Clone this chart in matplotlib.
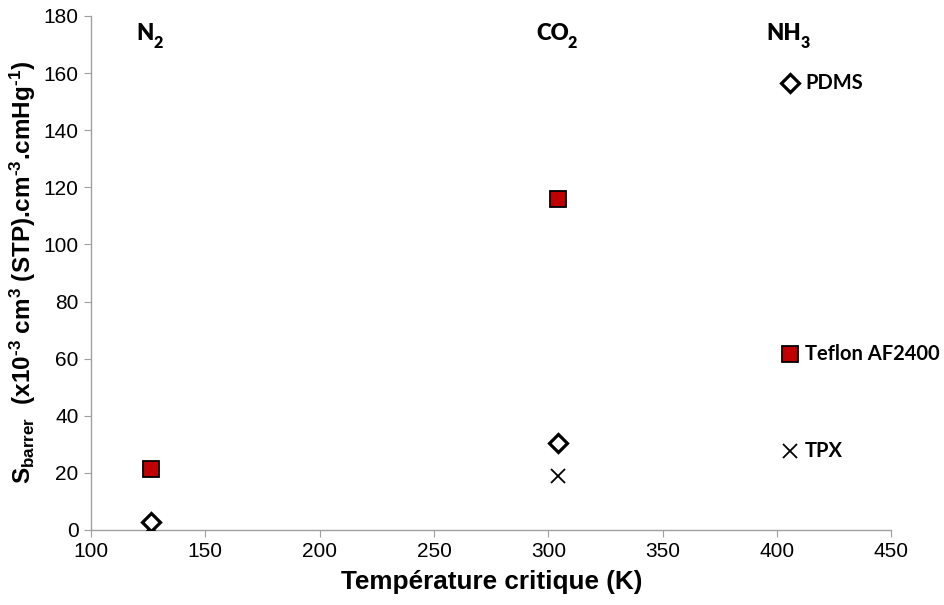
import matplotlib
matplotlib.use("Agg")
import matplotlib.pyplot as plt

plt.rcParams["mathtext.fontset"] = "custom"
plt.rcParams["mathtext.rm"] = "Liberation Sans:bold"
plt.rcParams["mathtext.bf"] = "Liberation Sans:bold"
plt.rcParams["mathtext.it"] = "Liberation Sans:bold"
plt.rcParams["mathtext.default"] = "rm"

gases = ["N", "CO", "NH"]
gas_sub = ["2", "2", "3"]
tc = [126.2, 304.2, 405.5]
pdms = [2.8, 30.5, 156.6]
teflon = [21.4, 115.9, 61.6]
tpx = [1.0, 18.8, 27.8]
series_names = ["PDMS", "Teflon AF2400", "TPX"]

fig = plt.figure(figsize=(9.45, 6.05), dpi=100)
ax = fig.add_axes([0.0963, 0.124, 0.847, 0.8496])

ax.plot(tc, tpx, linestyle="none", marker="x", markersize=10, markeredgewidth=1.3,
        color="black", zorder=3)
ax.plot(tc, pdms, linestyle="none", marker="D", markersize=9.5, markeredgewidth=2.3,
        markerfacecolor="white", markeredgecolor="black", zorder=4)
ax.plot(tc, teflon, linestyle="none", marker="s", markersize=11.5, markeredgewidth=1.3,
        markerfacecolor="#C00000", markeredgecolor="black", zorder=5)

lab_font = dict(family=["Lato", "DejaVu Sans"], fontweight="bold", fontsize=14.5)
for name, vals in zip(series_names, [pdms, teflon, tpx]):
    ax.annotate(name, (tc[2], vals[2]), xytext=(11, 0), textcoords="offset points",
                va="center", ha="left", **lab_font)

for g, sub, x in zip(gases, gas_sub, tc):
    t = ax.annotate(g, (x, 173.7), xytext=(-4, 0), textcoords="offset points",
                    ha="center", va="center", fontsize=16, fontweight="heavy",
                    family=["Lato", "DejaVu Sans"])
    ax.annotate(sub, xy=(1.0, 0.5), xycoords=t, xytext=(-0.6, -6.5), textcoords="offset points",
                ha="left", va="center", fontsize=11.5, fontweight="heavy",
                family=["Lato", "DejaVu Sans"])

ax.set_xlim(100, 450)
ax.set_ylim(0, 180)
ax.set_xticks(range(100, 451, 50))
ax.set_yticks(range(0, 181, 20))
for s in ["top", "right"]:
    ax.spines[s].set_visible(False)
for s in ["left", "bottom"]:
    ax.spines[s].set_color("#A0A0A0")
    ax.spines[s].set_linewidth(1.0)
ax.tick_params(direction="out", length=5, color="#A0A0A0", labelsize=15, pad=4)
for lbl in ax.get_xticklabels() + ax.get_yticklabels():
    lbl.set_family("Liberation Sans")

ax.set_xlabel("Température critique (K)", fontsize=18.8, fontweight="bold",
              family="Liberation Sans", labelpad=6)
ax.set_ylabel("S$_{barrer}$  (x10$^{‐3}$ cm$^{3}$ (STP).cm$^{‐3}$.cmHg$^{‐1}$)",
              fontsize=17.5, fontweight="bold", family="Liberation Sans", labelpad=4)

fig.savefig("out.png", dpi=100)
